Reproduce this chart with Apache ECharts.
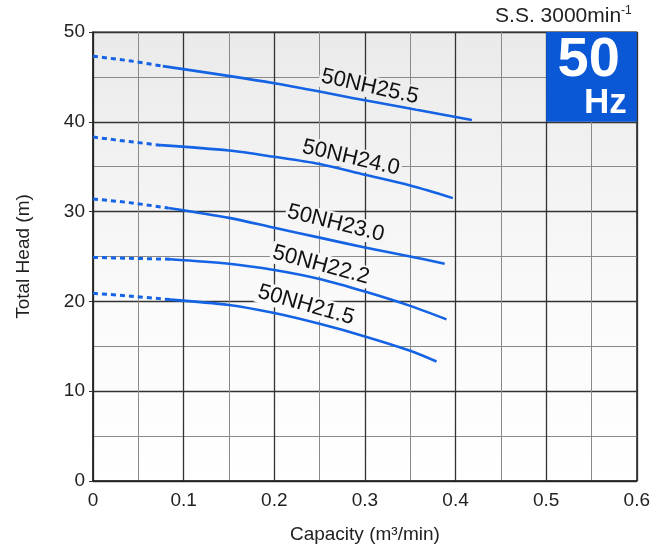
<!DOCTYPE html>
<html>
<head>
<meta charset="utf-8">
<script src="https://cdn.jsdelivr.net/npm/echarts@6/dist/echarts.min.js"></script>
<style>
html,body{margin:0;padding:0;background:#fff;}
#chart{width:653px;height:551px;}
</style>
</head>
<body>
<div id="chart"></div>
<script>
// ---- data ----
const models = ['50NH25.5', '50NH24.0', '50NH23.0', '50NH22.2', '50NH21.5'];
const nh255Dash = [[0, 47.3], [0.04, 46.8], [0.077, 46.2]];
const nh255Solid = [[0.077, 46.2], [0.2, 44.3], [0.3, 42.4], [0.418, 40.2]];
const nh240Dash = [[0, 38.3], [0.04, 37.8], [0.074, 37.4]];
const nh240Solid = [[0.074, 37.4], [0.15, 36.8], [0.2, 36.1], [0.25, 35.3], [0.3, 34.1], [0.35, 32.9], [0.397, 31.5]];
const nh230Dash = [[0, 31.4], [0.04, 31.0], [0.083, 30.4]];
const nh230Solid = [[0.083, 30.4], [0.15, 29.3], [0.2, 28.2], [0.25, 27.1], [0.3, 26.0], [0.35, 25.0], [0.388, 24.2]];
const nh222Dash = [[0, 24.9], [0.04, 24.8], [0.085, 24.7]];
const nh222Solid = [[0.085, 24.7], [0.15, 24.2], [0.2, 23.5], [0.25, 22.5], [0.3, 21.1], [0.35, 19.5], [0.39, 18.0]];
const nh215Dash = [[0, 20.9], [0.04, 20.6], [0.085, 20.2]];
const nh215Solid = [[0.085, 20.2], [0.15, 19.6], [0.2, 18.7], [0.25, 17.5], [0.3, 16.1], [0.35, 14.5], [0.379, 13.3]];
const dashSets = [nh255Dash, nh240Dash, nh230Dash, nh222Dash, nh215Dash];
const solidSets = [nh255Solid, nh240Solid, nh230Solid, nh222Solid, nh215Solid];
// label anchor (data coords) and slope angle in degrees
const labelAnchors = [[0.3055, 43.9], [0.2846, 36.0], [0.268, 28.7], [0.2515, 24.05], [0.235, 19.6]];
const labelAngles = [12.5, 13, 14, 15, 16];
const xTicks = [0, 0.1, 0.2, 0.3, 0.4, 0.5, 0.6];
const yTicks = [0, 10, 20, 30, 40, 50];
const freqBox = [[0.5, 50], [0.6, 40]];
const speedText = 'S.S. 3000min';

// ---- styles ----
const FONT = '"Liberation Sans", Arial, Helvetica, sans-serif';
const BLUE = '#1463e4';
const BOXBLUE = '#0a58d6';
const bgStops = [[0, [234, 234, 234]], [0.6, [250, 250, 250]], [1, [255, 255, 255]]];
function bgAt(f) {
  for (let i = 1; i < bgStops.length; i++) {
    if (f <= bgStops[i][0]) {
      const a = bgStops[i - 1], b = bgStops[i];
      const t = (f - a[0]) / (b[0] - a[0]);
      const c = a[1].map((v, k) => Math.round(v + (b[1][k] - v) * t));
      return 'rgb(' + c.join(',') + ')';
    }
  }
  return '#fff';
}

const chart = echarts.init(document.getElementById('chart'), null, {renderer: 'canvas'});

const series = [];
models.forEach((m, i) => {
  series.push({
    name: m + ' dash', type: 'line', data: dashSets[i], showSymbol: false, symbol: 'none',
    smooth: 0.3, silent: true,
    lineStyle: {color: BLUE, width: 3, type: [5, 4]}, z: 3
  });
  series.push({
    name: m, type: 'line', data: solidSets[i], showSymbol: false, symbol: 'none',
    smooth: 0.3, silent: true,
    lineStyle: {color: BLUE, width: 2.6}, z: 3
  });
});
series.push({
  type: 'line', data: [], silent: true,
  markArea: {
    silent: true,
    itemStyle: {color: BOXBLUE, opacity: 1},
    data: [[{coord: freqBox[0]}, {coord: freqBox[1]}]]
  },
  z: 2
});

const option = {
  animation: false,
  textStyle: {fontFamily: FONT},
  grid: {
    left: 93, right: 16, top: 32, bottom: 70, show: true,
    backgroundColor: new echarts.graphic.LinearGradient(0, 0, 0, 1,
      bgStops.map(s => ({offset: s[0], color: 'rgb(' + s[1].join(',') + ')'}))),
    borderColor: '#2a2a2a', borderWidth: 1.2
  },
  xAxis: {
    type: 'value', min: xTicks[0], max: xTicks[xTicks.length - 1], interval: 0.1,
    name: 'Capacity (m³/min)', nameLocation: 'middle', nameGap: 44,
    nameTextStyle: {fontSize: 19, color: '#222', fontFamily: FONT},
    axisLine: {show: true, onZero: false, lineStyle: {color: '#222', width: 1.5}},
    axisTick: {show: false},
    axisLabel: {fontSize: 19, color: '#222', margin: 10, fontFamily: FONT,
      formatter: v => (v === 0 ? '0' : v.toFixed(1))},
    splitLine: {show: true, lineStyle: {color: '#333', width: 1.3}},
    minorTick: {show: false, splitNumber: 2},
    minorSplitLine: {show: true, lineStyle: {color: '#8a8a8a', width: 1}}
  },
  yAxis: {
    type: 'value', min: yTicks[0], max: yTicks[yTicks.length - 1], interval: 10,
    name: 'Total Head (m)', nameLocation: 'middle', nameGap: 60,
    nameTextStyle: {fontSize: 19, color: '#222', fontFamily: FONT},
    axisLine: {show: true, onZero: false, lineStyle: {color: '#222', width: 1.5}},
    axisTick: {show: true, length: 4, lineStyle: {color: '#333'}},
    axisLabel: {fontSize: 19, color: '#222', margin: 8, fontFamily: FONT},
    splitLine: {show: true, lineStyle: {color: '#333', width: 1.3}},
    minorTick: {show: false, splitNumber: 2},
    minorSplitLine: {show: true, lineStyle: {color: '#8a8a8a', width: 1}}
  },
  series: series
};
chart.setOption(option);

function px(pt) { return chart.convertToPixel({gridIndex: 0}, pt); }
const graphics = [];
const rectTop = px([0, 50])[1], rectBottom = px([0, 0])[1];
models.forEach((m, i) => {
  const p = px(labelAnchors[i]);
  const f = (p[1] - rectTop) / (rectBottom - rectTop);
  graphics.push({
    type: 'text', x: p[0], y: p[1], rotation: labelAngles[i] * Math.PI / 180 * -1, z: 10,
    style: {
      text: m, fill: '#111', font: '22px ' + FONT,
      align: 'center', verticalAlign: 'middle',
      backgroundColor: bgAt(f), padding: [0, 2]
    }
  });
});
// 50 Hz box texts
const c50 = px([0.547, 46.8]);
graphics.push({type: 'text', x: c50[0], y: c50[1], z: 10,
  style: {text: '50', fill: '#fff', font: 'bold 56px ' + FONT, align: 'center', verticalAlign: 'middle'}});
const cHz = px([0.589, 42.1]);
graphics.push({type: 'text', x: cHz[0], y: cHz[1], z: 10,
  style: {text: 'Hz', fill: '#fff', font: 'bold 35px ' + FONT, align: 'right', verticalAlign: 'middle'}});
// speed text
const ss = px([0.6, 50]);
graphics.push({type: 'text', x: ss[0] - 5, y: ss[1] - 4, z: 10,
  style: {
    text: '{a|' + speedText + '}{b|-1}',
    align: 'right', verticalAlign: 'bottom',
    rich: {
      a: {fontSize: 21, fontFamily: FONT, fill: '#222', color: '#222', lineHeight: 23},
      b: {fontSize: 12, fontFamily: FONT, fill: '#222', color: '#222', verticalAlign: 'top', lineHeight: 23}
    }
  }});
chart.setOption({graphic: graphics});
</script>
</body>
</html>
